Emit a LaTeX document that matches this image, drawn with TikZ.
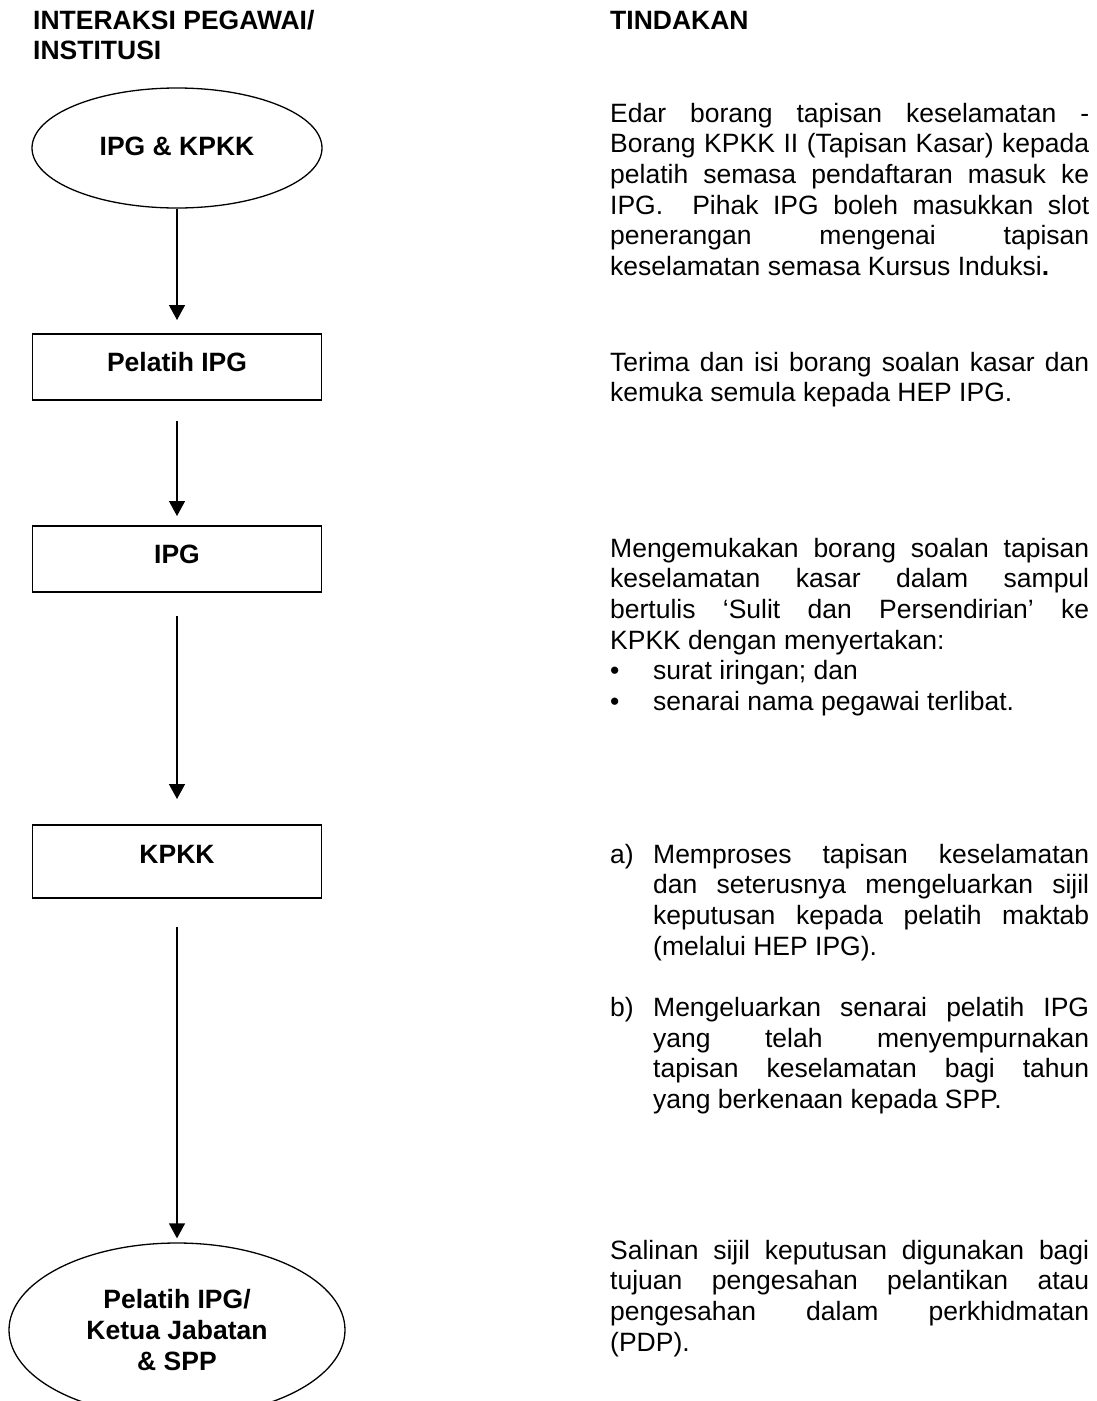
\documentclass[tikz,border=0pt]{standalone}
\usepackage{fontspec}
\setmainfont{Liberation Sans}
\usetikzlibrary{shapes.geometric,arrows.meta}
\newcommand\bodysize{\fontsize{26.5pt}{31pt}\selectfont}
\newcommand\jline[1]{\hbox to 479pt{#1}}
\newcommand\rline[1]{\hbox{#1}}
\newcommand\jlinei[2]{\hbox{\hbox to 43pt{#1\hfil}\hbox to 436pt{#2}}}
\newcommand\rlinei[2]{\hbox{\hbox to 43pt{#1\hfil}#2}}
\newcommand\txtblock[1]{\vtop{\baselineskip=30.7pt\lineskiplimit=-100pt\lineskip=0pt #1}}
\tikzset{
  flowbox/.style={draw, line width=1.3pt, rectangle, minimum width=289pt, inner xsep=0pt, inner ysep=0pt, font=\bodysize\bfseries},
  flowell/.style={draw, line width=1.3pt, ellipse, inner sep=0pt, font=\bodysize\bfseries, align=center},
  flowarrow/.style={line width=1.4pt, -{Triangle[length=15pt,width=16pt]}},
  coltext/.style={anchor=base west, inner sep=0pt, font=\bodysize},
}
\begin{document}
\begin{tikzpicture}[x=1pt, y=-1pt]
\path[use as bounding box, fill=white] (0,0) rectangle (1097,1401);
\clip (0,0) rectangle (1097,1401);

% headings
\node[coltext, font=\bodysize\bfseries] (hleft) at (33,29)
  {\vtop{\baselineskip=30pt\lineskiplimit=-100pt\lineskip=0pt \rline{INTERAKSI PEGAWAI/}\rline{INSTITUSI}}};
\node[coltext, font=\bodysize\bfseries] (hright) at (610,29) {TINDAKAN};

% flow nodes
\node[flowell, minimum width=290pt, minimum height=120pt, text height=19pt, text depth=5pt] (e1) at (177,148) {IPG \& KPKK};
\node[flowbox, anchor=base, text height=37pt, text depth=29pt] (b1) at (177,371) {Pelatih IPG};
\node[flowbox, anchor=base, text height=37pt, text depth=29pt] (b2) at (177,563) {IPG};
\node[flowbox, anchor=base, text height=38pt, text depth=35pt] (b3) at (177,863) {KPKK};
\node[flowell, minimum width=336pt, minimum height=174pt] (e2) at (177,1330) {Pelatih IPG/\\Ketua Jabatan\\\& SPP};

% connector ends
\coordinate (a1e) at (177,320);
\coordinate (a2s) at (177,421);
\coordinate (a2e) at (177,516);
\coordinate (a3s) at (177,616);
\coordinate (a3e) at (177,799);
\coordinate (a4s) at (177,927);

\draw[flowarrow] (e1.south) -- (a1e);
\draw[flowarrow] (a2s) -- (a2e);
\draw[flowarrow] (a3s) -- (a3e);
\draw[flowarrow, shorten >=4pt] (a4s) -- (e2.north);

% right column
\node[coltext] (t1) at (610,122) {\txtblock{%
  \jline{Edar borang tapisan keselamatan -}%
  \jline{Borang KPKK II (Tapisan Kasar) kepada}%
  \jline{pelatih semasa pendaftaran masuk ke}%
  \jline{IPG.\ \ Pihak IPG boleh masukkan slot}%
  \jline{penerangan mengenai tapisan}%
  \rline{keselamatan semasa Kursus Induksi\textbf{.}}}};

\node[coltext] (t2) at (610,371) {\txtblock{%
  \jline{Terima dan isi borang soalan kasar dan}%
  \rline{kemuka semula kepada HEP IPG.}}};

\node[coltext] (t3) at (610,557) {\txtblock{%
  \jline{Mengemukakan borang soalan tapisan}%
  \jline{keselamatan kasar dalam sampul}%
  \jline{bertulis ‘Sulit dan Persendirian’ ke}%
  \rline{KPKK dengan menyertakan:}%
  \rlinei{•}{surat iringan; dan}%
  \rlinei{•}{senarai nama pegawai terlibat.}}};

\node[coltext] (t4) at (610,863) {\txtblock{%
  \jlinei{a)}{Memproses tapisan keselamatan}%
  \jlinei{}{dan seterusnya mengeluarkan sijil}%
  \jlinei{}{keputusan kepada pelatih maktab}%
  \rlinei{}{(melalui HEP IPG).}%
  \rline{}%
  \jlinei{b)}{Mengeluarkan senarai pelatih IPG}%
  \jlinei{}{yang telah menyempurnakan}%
  \jlinei{}{tapisan keselamatan bagi tahun}%
  \rlinei{}{yang berkenaan kepada SPP.}}};

\node[coltext] (t5) at (610,1259) {\txtblock{%
  \jline{Salinan sijil keputusan digunakan bagi}%
  \jline{tujuan pengesahan pelantikan atau}%
  \jline{pengesahan dalam perkhidmatan}%
  \rline{(PDP).}}};
\end{tikzpicture}
\end{document}
